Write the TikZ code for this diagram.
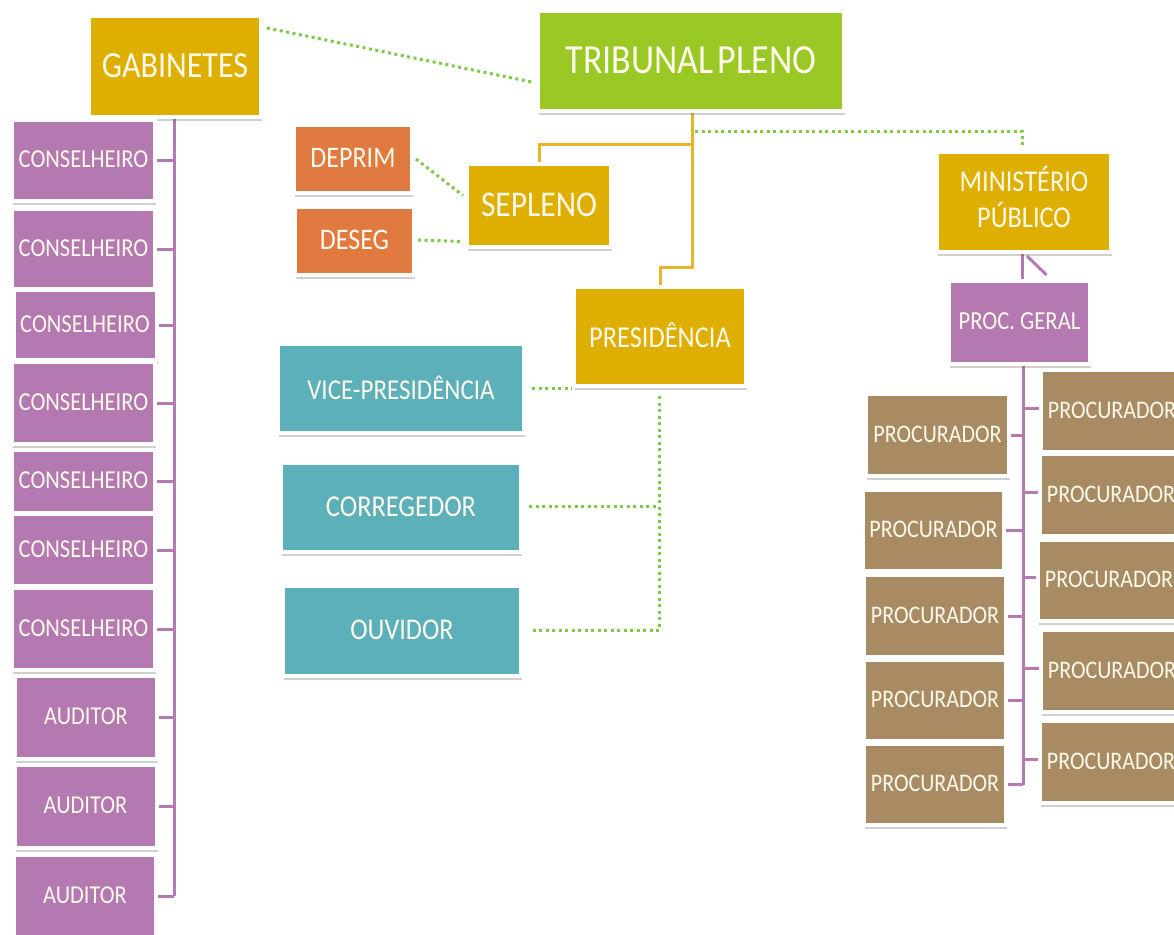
\documentclass[tikz,border=0pt]{standalone}
\usepackage{fontspec}
\setmainfont{Carlito}
\usepackage{graphicx}
\usetikzlibrary{shadows,calc}
\pgfdeclarelayer{bg}
\pgfsetlayers{bg,main}
\definecolor{goldc}{HTML}{DEAE00}
\definecolor{greenc}{HTML}{9AC925}
\definecolor{orangec}{HTML}{E17A40}
\definecolor{tealc}{HTML}{5BB0B9}
\definecolor{purc}{HTML}{B579B2}
\definecolor{brownc}{HTML}{A88B62}
\definecolor{dotg}{HTML}{7DCB48}
\definecolor{goldl}{HTML}{E6B52A}
\definecolor{txtc}{HTML}{FFFAEC}
\newcommand{\tx}[2]{\fontsize{#1}{#1}\selectfont\raisebox{2pt}{\scalebox{1}[1.15]{#2}}}
\begin{document}
\begin{tikzpicture}[x=1pt,y=-1pt,
  box/.style={draw=white, line width=4pt, inner sep=0pt, text=txtc,
    drop shadow={shadow xshift=1pt, shadow yshift=-4pt, opacity=0.3, fill=black!60}},
  gbox/.style={box, fill=goldc},
  obox/.style={box, fill=orangec},
  tbox/.style={box, fill=tealc},
  pbox/.style={box, fill=purc},
  bbox/.style={box, fill=brownc},
  dotl/.style={draw=dotg, line width=3pt, dash pattern=on 3pt off 3.5pt},
  goldln/.style={draw=goldl, line width=3pt},
  purln/.style={draw=purc, line width=3pt}]
\clip[use as bounding box] (0,0) rectangle (1174,934);

% top level
\node[box, fill=greenc, minimum width=306pt, minimum height=100pt] (trib) at (691,61) {\tx{36}{TRIBUNAL\kern4pt PLENO}};
\node[gbox, minimum width=172pt, minimum height=101pt] (gab) at (175,66.5) {\tx{32}{GABINETES}};
\node[gbox, minimum width=144pt, minimum height=83pt] (sep) at (539,205.5) {\tx{31.5}{SEPLENO}};
\node[obox, minimum width=118pt, minimum height=68pt] (dep) at (353,159) {\tx{26}{DEPRIM}};
\node[obox, minimum width=119pt, minimum height=68pt] (des) at (354.5,241) {\tx{26}{DESEG}};
\node[gbox, minimum width=174pt, minimum height=100pt] (min) at (1024,202)
  {\fontsize{26.3}{29.5}\selectfont\raisebox{2pt}{\scalebox{1}[1.15]{\begin{tabular}{@{}c@{}}MINISTÉRIO\\PÚBLICO\end{tabular}}}};
\node[pbox, minimum width=141pt, minimum height=83pt] (pg) at (1019.5,322.5) {\tx{22.6}{PROC. GERAL}};
\node[gbox, minimum width=172pt, minimum height=99pt] (pres) at (660,336.5) {\tx{26.4}{PRESIDÊNCIA}};
\node[tbox, minimum width=246pt, minimum height=89pt] (vice) at (401,388.5) {\tx{25}{VICE-PRESIDÊNCIA}};
\node[tbox, minimum width=240pt, minimum height=89pt] (cor) at (401,507.5) {\tx{26.4}{CORREGEDOR}};
\node[tbox, minimum width=238pt, minimum height=90pt] (ouv) at (402,631) {\tx{26.2}{OUVIDOR}};

% conselheiros
\node[pbox, minimum width=143pt, minimum height=81pt] (c1) at (83.5,160.5) {\tx{22.5}{CONSELHEIRO}};
\node[pbox, minimum width=143pt, minimum height=80pt] (c2) at (83.5,249) {\tx{22.5}{CONSELHEIRO}};
\node[pbox, minimum width=143pt, minimum height=70pt] (c3) at (85,325) {\tx{22.5}{CONSELHEIRO}};
\node[pbox, minimum width=143pt, minimum height=82pt] (c4) at (83.5,403) {\tx{22.5}{CONSELHEIRO}};
\node[pbox, minimum width=143pt, minimum height=63pt] (c5) at (83.5,481) {\tx{22.5}{CONSELHEIRO}};
\node[pbox, minimum width=143pt, minimum height=72pt] (c6) at (83.5,550) {\tx{22.5}{CONSELHEIRO}};
\node[pbox, minimum width=143pt, minimum height=82pt] (c7) at (83.5,629) {\tx{22.5}{CONSELHEIRO}};
\node[pbox, minimum width=142pt, minimum height=83pt] (a1) at (86,717.5) {\tx{22.4}{AUDITOR}};
\node[pbox, minimum width=142pt, minimum height=83pt] (a2) at (85.5,806.5) {\tx{22.4}{AUDITOR}};
\node[pbox, minimum width=142pt, minimum height=83pt] (a3) at (85,896) {\tx{22.4}{AUDITOR}};

% procuradores
\node[bbox, minimum width=143pt, minimum height=82pt] (pl1) at (937.5,435) {\tx{22}{PROCURADOR}};
\node[bbox, minimum width=141pt, minimum height=81pt] (pl2) at (933.5,530.5) {\tx{22}{PROCURADOR}};
\node[bbox, minimum width=142pt, minimum height=82pt] (pl3) at (935,616) {\tx{22}{PROCURADOR}};
\node[bbox, minimum width=142pt, minimum height=81pt] (pl4) at (935,700.5) {\tx{22}{PROCURADOR}};
\node[bbox, minimum width=142pt, minimum height=81pt] (pl5) at (935,784.5) {\tx{22}{PROCURADOR}};
\node[bbox, minimum width=142pt, minimum height=82pt] (pr1) at (1112,411) {\tx{22}{PROCURADOR}};
\node[bbox, minimum width=142pt, minimum height=82pt] (pr2) at (1111,495) {\tx{22}{PROCURADOR}};
\node[bbox, minimum width=142pt, minimum height=81pt] (pr3) at (1109,580.5) {\tx{22}{PROCURADOR}};
\node[bbox, minimum width=142pt, minimum height=82pt] (pr4) at (1112,671) {\tx{22}{PROCURADOR}};
\node[bbox, minimum width=142pt, minimum height=82pt] (pr5) at (1111,762) {\tx{22}{PROCURADOR}};

\coordinate (sp) at (1023,362);

\begin{pgfonlayer}{bg}
\fill[white] (0,0) rectangle (1174,934);
% dotted green connectors
\draw[dotl] ($(gab.north east)+(4,14)$) -- ($(trib.west)+(-4,21)$);
\draw[dotl] ($(trib.south)+(4,18)$) -| ($(min.north)+(-2,-4)$);
\draw[dotl] ($(dep.east)+(2,0)$) -- ($(sep.west)+(-2,-10)$);
\draw[dotl] ($(des.east)+(2,-1)$) -- ($(sep.west)+(-4,36)$);
\draw[dotl] ($(vice.east)+(6,0)$) -- (vice.east -| pres.west);
\draw[dotl] ($(pres.south)+(-1,8)$) |- ($(ouv.east)+(6,-1)$);
\draw[dotl] ($(cor.east)+(6,-1)$) -- ($(cor.east -| pres.south)+(-1,-1)$);
% gold connectors
\draw[goldln] ($(trib.south)+(1,0)$) -- ++(0,31) -| (sep.north);
\draw[goldln] ($(trib.south)+(1,0)$) -- ++(0,154) -| (pres.north);
% purple: gabinetes
\draw[purln] ($(gab.south)+(-1,0)$) -- ($(gab.south |- a3.east)+(-1,0)$);
\foreach \n in {c1,c2,c3,c4,c5,c6,c7,a1,a2,a3}
  \draw[purln] (\n.east) -- ($(\n.east -| gab.south)+(-1,0)$);
% purple: ministerio publico
\draw[purln] ($(min.south)+(-2,0)$) -- ($(min.south |- pg.north)+(-2,0)$);
\draw[purln] ($(min.south)+(3,2)$) -- ($(pg.north)+(27,-4)$);
\draw[purln] (sp) -- (sp |- pl5.east);
\foreach \n in {pl1,pl2,pl3,pl4,pl5}
  \draw[purln] (\n.east) -- (\n.east -| sp);
\foreach \n in {pr1,pr2,pr3,pr4,pr5}
  \draw[purln] ($(\n.west)+(0,-3)$) -- ($(\n.west -| sp)+(0,-3)$);
\end{pgfonlayer}
\end{tikzpicture}
\end{document}
